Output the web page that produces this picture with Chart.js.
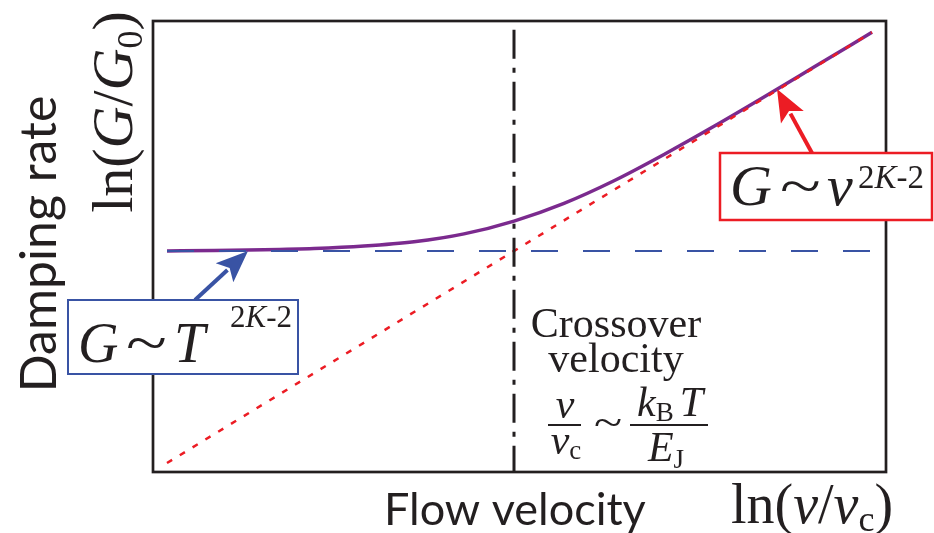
<!DOCTYPE html>
<html>
<head>
<meta charset="utf-8">
<script src="https://cdn.jsdelivr.net/npm/chart.js@4"></script>
<style>
    html, body { margin: 0; padding: 0; background: #ffffff; }
    #wrap { width: 934px; height: 533px; }
</style>
</head>
<body>
<div id="wrap"><canvas id="crossoverChart" width="934" height="533"></canvas></div>
<script>
// ln(v/vc) positions and ln(G/G0) values of the damping curve
const curveX = [-3.47, -3.0, -2.5, -2.0, -1.5, -1.0, -0.5, 0, 0.5, 1.0, 1.5, 2.0, 2.5, 3.0, 3.58];
const curveY = [0.0, 0.01, 0.02, 0.04, 0.08, 0.15, 0.28, 0.49, 0.78, 1.15, 1.58, 2.04, 2.52, 3.01, 3.58];

// asymptotes: high-velocity power law and low-velocity plateau
const asymX = [-3.47, 3.58];
const powerY = [-3.47, 3.58];
const plateauY = [0, 0];

// crossover marker at v = vc
const crossX = [0, 0];
const crossY = [3.62, -3.62];

// where the two arrows point
const plateauTip = { x: -2.66, y: 0 };
const powerTip = { x: 2.63, y: 2.65 };

const xRange = [-3.61, 3.72];
const yRange = [-3.617, 3.764];

const INK = '#231f20';
const BLUE = '#3953a4';
const RED = '#ec1c24';
const PURPLE = '#7b2a8e';
const SERIF = '"Liberation Serif", "DejaVu Serif", serif';
const SANS = 'Lato, "Open Sans", sans-serif';

function pts(xs, ys) {
    return xs.map((x, i) => ({ x: x, y: ys[i] }));
}

// draws a row of text pieces with different fonts, returns end x
function runs(ctx, parts, x, y) {
    let cx = x;
    parts.forEach(p => {
        ctx.font = p.font;
        ctx.fillText(p.t, cx, y + (p.dy || 0));
        cx += ctx.measureText(p.t).width + (p.gap || 0);
    });
    return cx;
}

function runsWidth(ctx, parts) {
    let w = 0;
    parts.forEach(p => {
        ctx.font = p.font;
        w += ctx.measureText(p.t).width + (p.gap || 0);
    });
    return w;
}

// a wide "~" like the math tilde operator
function tilde(ctx, size, x, y, stretch) {
    ctx.save();
    ctx.translate(x, y);
    ctx.scale(stretch, 1);
    ctx.font = size + 'px ' + SERIF;
    ctx.fillText('~', 0, 0);
    ctx.restore();
}

function arrow(ctx, x0, y0, x1, y1, color) {
    const a = Math.atan2(y1 - y0, x1 - x0);
    const len = 32, half = 13;
    const bx = x1 - len * Math.cos(a), by = y1 - len * Math.sin(a);
    ctx.strokeStyle = color;
    ctx.fillStyle = color;
    ctx.lineWidth = 4;
    ctx.beginPath();
    ctx.moveTo(x0, y0);
    ctx.lineTo(bx + 4 * Math.cos(a), by + 4 * Math.sin(a));
    ctx.stroke();
    ctx.beginPath();
    ctx.moveTo(x1, y1);
    ctx.lineTo(bx - half * Math.sin(a), by + half * Math.cos(a));
    ctx.lineTo(bx + 7 * Math.cos(a), by + 7 * Math.sin(a));
    ctx.lineTo(bx + half * Math.sin(a), by - half * Math.cos(a));
    ctx.closePath();
    ctx.fill();
}

const decorations = {
    id: 'decorations',
    beforeDatasetsDraw(chart) {
        const { ctx, chartArea: a } = chart;
        ctx.save();
        ctx.strokeStyle = INK;
        ctx.lineWidth = 2.7;
        ctx.strokeRect(a.left, a.top, a.right - a.left, a.bottom - a.top);
        ctx.restore();
    },
    afterDraw(chart) {
        const { ctx, scales } = chart;
        const sx = v => scales.x.getPixelForValue(v);
        const sy = v => scales.y.getPixelForValue(v);
        ctx.save();
        ctx.fillStyle = INK;
        ctx.textBaseline = 'alphabetic';

        // axis titles
        ctx.save();
        ctx.translate(56, 244);
        ctx.rotate(-Math.PI / 2);
        ctx.textAlign = 'center';
        ctx.font = '50px ' + SANS;
        ctx.fillText('Damping rate', 0, 0);
        ctx.restore();

        const lnG = [
            { t: 'ln(', font: '58px ' + SERIF },
            { t: 'G', font: 'italic 58px ' + SERIF },
            { t: '/', font: '58px ' + SERIF },
            { t: 'G', font: 'italic 58px ' + SERIF },
            { t: '0', font: '36px ' + SERIF, dy: 10 },
            { t: ')', font: '58px ' + SERIF }
        ];
        ctx.save();
        ctx.translate(132, 112);
        ctx.rotate(-Math.PI / 2);
        runs(ctx, lnG, -runsWidth(ctx, lnG) / 2, 0);
        ctx.restore();

        ctx.font = '45px ' + SANS;
        ctx.fillText('Flow velocity', 384, 525);
        runs(ctx, [
            { t: 'ln(', font: '56px ' + SERIF },
            { t: 'v', font: 'italic 56px ' + SERIF },
            { t: '/', font: '56px ' + SERIF },
            { t: 'v', font: 'italic 56px ' + SERIF },
            { t: 'c', font: '36px ' + SERIF, dy: 8 },
            { t: ')', font: '56px ' + SERIF }
        ], 731, 523);

        // crossover caption
        const cx = sx(0) + 102;
        ctx.textAlign = 'center';
        ctx.font = '42px ' + SERIF;
        ctx.fillText('Crossover', cx, 337);
        ctx.fillText('velocity', cx, 372);
        ctx.textAlign = 'left';

        ctx.strokeStyle = INK;
        ctx.lineWidth = 2;
        ctx.beginPath();
        ctx.moveTo(548, 425); ctx.lineTo(581, 425);
        ctx.moveTo(630, 425); ctx.lineTo(708, 425);
        ctx.stroke();

        const num1 = [{ t: 'v', font: 'italic 42px ' + SERIF }];
        runs(ctx, num1, 565 - runsWidth(ctx, num1) / 2, 418);
        const den1 = [
            { t: 'v', font: 'italic 42px ' + SERIF },
            { t: 'c', font: '27px ' + SERIF, dy: 5 }
        ];
        runs(ctx, den1, 566 - runsWidth(ctx, den1) / 2, 454);
        tilde(ctx, 40, 594, 436, 1.3);
        const num2 = [
            { t: 'k', font: 'italic 42px ' + SERIF },
            { t: 'B', font: '27px ' + SERIF, dy: 5, gap: 6 },
            { t: 'T', font: 'italic 42px ' + SERIF }
        ];
        runs(ctx, num2, 670 - runsWidth(ctx, num2) / 2, 416);
        const den2 = [
            { t: 'E', font: 'italic 42px ' + SERIF },
            { t: 'J', font: '27px ' + SERIF, dy: 7 }
        ];
        runs(ctx, den2, 666 - runsWidth(ctx, den2) / 2, 461);

        // plateau label
        arrow(ctx, 195, 300, sx(plateauTip.x), sy(plateauTip.y), BLUE);
        ctx.fillStyle = '#ffffff';
        ctx.fillRect(68, 300, 230, 74);
        ctx.strokeStyle = BLUE;
        ctx.lineWidth = 2;
        ctx.strokeRect(68, 300, 230, 74);
        ctx.fillStyle = INK;
        ctx.font = 'italic 56px ' + SERIF;
        ctx.fillText('G', 78, 362);
        tilde(ctx, 56, 126, 362, 1.35);
        ctx.font = 'italic 56px ' + SERIF;
        ctx.fillText('T', 174, 362);
        runs(ctx, [
            { t: '2', font: '31px ' + SERIF },
            { t: 'K', font: 'italic 31px ' + SERIF },
            { t: '-2', font: '31px ' + SERIF }
        ], 230, 327);

        // power-law label
        arrow(ctx, 812, 153, sx(powerTip.x), sy(powerTip.y), RED);
        ctx.fillStyle = '#ffffff';
        ctx.fillRect(720, 153, 212, 67);
        ctx.strokeStyle = RED;
        ctx.lineWidth = 2.5;
        ctx.strokeRect(720, 153, 212, 67);
        ctx.fillStyle = INK;
        ctx.font = 'italic 58px ' + SERIF;
        ctx.fillText('G', 730, 205);
        tilde(ctx, 58, 780, 205, 1.3);
        ctx.font = 'italic 58px ' + SERIF;
        ctx.fillText('v', 827, 205);
        runs(ctx, [
            { t: '2', font: '33px ' + SERIF },
            { t: 'K', font: 'italic 33px ' + SERIF },
            { t: '-2', font: '33px ' + SERIF }
        ], 858, 188);

        ctx.restore();
    }
};

new Chart(document.getElementById('crossoverChart').getContext('2d'), {
    type: 'scatter',
    data: {
        datasets: [
            {
                label: 'crossover',
                data: pts(crossX, crossY),
                showLine: true,
                borderColor: INK,
                borderWidth: 3,
                borderDash: [29, 9, 5, 9],
                pointRadius: 0
            },
            {
                label: 'G ~ v^(2K-2)',
                data: pts(asymX, powerY),
                showLine: true,
                borderColor: RED,
                borderWidth: 2.5,
                borderDash: [6, 9],
                pointRadius: 0
            },
            {
                label: 'G ~ T^(2K-2)',
                data: pts(asymX, plateauY),
                showLine: true,
                borderColor: BLUE,
                borderWidth: 2,
                borderDash: [27, 25],
                pointRadius: 0
            },
            {
                label: 'ln(G/G0)',
                data: pts(curveX, curveY),
                showLine: true,
                borderColor: PURPLE,
                borderWidth: 3.5,
                cubicInterpolationMode: 'monotone',
                pointRadius: 0
            }
        ]
    },
    options: {
        responsive: false,
        animation: false,
        devicePixelRatio: 1,
        layout: { padding: { left: 153, top: 21, right: 48, bottom: 61 } },
        plugins: {
            legend: { display: false },
            tooltip: { enabled: false }
        },
        scales: {
            x: { type: 'linear', display: false, min: xRange[0], max: xRange[1] },
            y: { type: 'linear', display: false, min: yRange[0], max: yRange[1] }
        }
    },
    plugins: [decorations]
});
</script>
</body>
</html>
